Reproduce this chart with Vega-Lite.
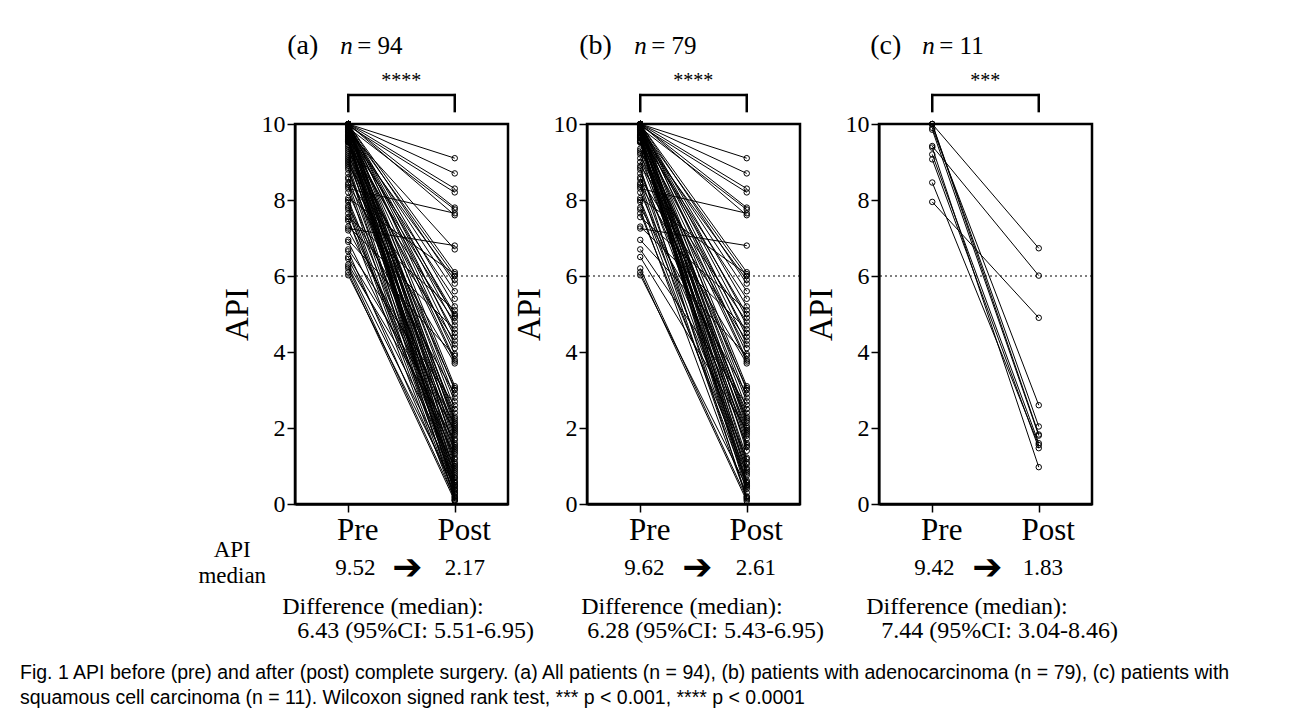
{
"$schema": "https://vega.github.io/schema/vega-lite/v6.json",
"padding": {"left": 20, "top": 30, "right": 5, "bottom": 5},
"background": "white",
"datasets": {
"a": [
{"id":1,"Pre":10,"Post":9.1},{"id":2,"Pre":10,"Post":8.7},{"id":3,"Pre":10,"Post":8.3},{"id":4,"Pre":9.95,"Post":8.2},{"id":5,"Pre":10,"Post":7.8},{"id":6,"Pre":9.9,"Post":7.75},{"id":7,"Pre":8.3,"Post":7.65},{"id":8,"Pre":10,"Post":7.6},{"id":9,"Pre":7.25,"Post":6.8},{"id":10,"Pre":9.8,"Post":6.7},
{"id":11,"Pre":10,"Post":6.1},{"id":12,"Pre":8.05,"Post":6.05},{"id":13,"Pre":9.9,"Post":6.0},{"id":14,"Pre":9.7,"Post":5.9},{"id":15,"Pre":10,"Post":5.8},{"id":16,"Pre":9.85,"Post":5.6},{"id":17,"Pre":9.6,"Post":5.4},{"id":18,"Pre":10,"Post":5.2},{"id":19,"Pre":7.55,"Post":5.1},{"id":20,"Pre":9.75,"Post":5.0},
{"id":21,"Pre":9.45,"Post":4.95},{"id":22,"Pre":10,"Post":4.9},{"id":23,"Pre":8.9,"Post":4.8},{"id":24,"Pre":9.98,"Post":4.7},{"id":25,"Pre":7.3,"Post":4.6},{"id":26,"Pre":9.65,"Post":4.5},{"id":27,"Pre":10,"Post":4.4},{"id":28,"Pre":8.55,"Post":4.3},{"id":29,"Pre":9.92,"Post":4.2},{"id":30,"Pre":9.3,"Post":4.1},
{"id":31,"Pre":10,"Post":3.95},{"id":32,"Pre":6.95,"Post":3.9},{"id":33,"Pre":9.83,"Post":3.8},{"id":34,"Pre":9.55,"Post":3.75},{"id":35,"Pre":8.4,"Post":3.7},{"id":36,"Pre":10,"Post":3.1},{"id":37,"Pre":9.2,"Post":3.05},{"id":38,"Pre":9.78,"Post":3.0},{"id":39,"Pre":7.8,"Post":2.9},{"id":40,"Pre":9.99,"Post":2.8},
{"id":41,"Pre":9.6,"Post":2.7},{"id":42,"Pre":6.7,"Post":2.6},{"id":43,"Pre":9.88,"Post":2.5},{"id":44,"Pre":9.1,"Post":2.4},{"id":45,"Pre":9.72,"Post":2.3},{"id":46,"Pre":8.7,"Post":2.25},{"id":47,"Pre":10,"Post":2.2},{"id":48,"Pre":9.53,"Post":2.14},{"id":49,"Pre":7.2,"Post":2.1},{"id":50,"Pre":9.97,"Post":2.05},
{"id":51,"Pre":9.0,"Post":2.0},{"id":52,"Pre":6.5,"Post":1.95},{"id":53,"Pre":9.7,"Post":1.9},{"id":54,"Pre":8.2,"Post":1.85},{"id":55,"Pre":9.95,"Post":1.8},{"id":56,"Pre":9.35,"Post":1.72},{"id":57,"Pre":6.3,"Post":1.68},{"id":58,"Pre":9.86,"Post":1.6},{"id":59,"Pre":8.8,"Post":1.55},{"id":60,"Pre":9.57,"Post":1.5},
{"id":61,"Pre":7.45,"Post":1.45},{"id":62,"Pre":10,"Post":1.4},{"id":63,"Pre":9.05,"Post":1.35},{"id":64,"Pre":6.9,"Post":1.3},{"id":65,"Pre":9.63,"Post":1.22},{"id":66,"Pre":8.0,"Post":1.18},{"id":67,"Pre":9.93,"Post":1.1},{"id":68,"Pre":9.25,"Post":1.05},{"id":69,"Pre":6.45,"Post":1.0},{"id":70,"Pre":9.8,"Post":0.95},
{"id":71,"Pre":8.6,"Post":0.9},{"id":72,"Pre":9.54,"Post":0.85},{"id":73,"Pre":7.65,"Post":0.8},{"id":74,"Pre":9.68,"Post":0.75},{"id":75,"Pre":9.15,"Post":0.7},{"id":76,"Pre":6.25,"Post":0.68},{"id":77,"Pre":9.62,"Post":0.62},{"id":78,"Pre":8.45,"Post":0.58},{"id":79,"Pre":9.58,"Post":0.55},{"id":80,"Pre":7.95,"Post":0.5},
{"id":81,"Pre":9.55,"Post":0.48},{"id":82,"Pre":6.02,"Post":0.45},{"id":83,"Pre":9.53,"Post":0.4},{"id":84,"Pre":8.95,"Post":0.38},{"id":85,"Pre":7.85,"Post":0.35},{"id":86,"Pre":9.51,"Post":0.3},{"id":87,"Pre":6.65,"Post":0.28},{"id":88,"Pre":9.4,"Post":0.25},{"id":89,"Pre":8.35,"Post":0.2},{"id":90,"Pre":7.75,"Post":0.18},
{"id":91,"Pre":6.2,"Post":0.15},{"id":92,"Pre":8.85,"Post":0.12},{"id":93,"Pre":7.5,"Post":0.1},{"id":94,"Pre":6.1,"Post":0.08}
],
"b": [
{"id":1,"Pre":10,"Post":9.1},{"id":2,"Pre":10,"Post":8.7},{"id":3,"Pre":10,"Post":8.3},{"id":4,"Pre":9.95,"Post":8.2},{"id":5,"Pre":10,"Post":7.8},{"id":6,"Pre":9.9,"Post":7.75},{"id":7,"Pre":8.3,"Post":7.65},{"id":8,"Pre":10,"Post":7.6},{"id":9,"Pre":7.25,"Post":6.8},
{"id":11,"Pre":10,"Post":6.1},{"id":12,"Pre":8.05,"Post":6.05},{"id":13,"Pre":9.9,"Post":6.0},{"id":14,"Pre":9.7,"Post":5.9},{"id":15,"Pre":10,"Post":5.8},{"id":16,"Pre":9.85,"Post":5.6},{"id":17,"Pre":9.66,"Post":5.4},{"id":18,"Pre":10,"Post":5.2},{"id":19,"Pre":7.55,"Post":5.1},{"id":20,"Pre":9.75,"Post":5.0},
{"id":22,"Pre":10,"Post":4.9},{"id":23,"Pre":8.9,"Post":4.8},{"id":24,"Pre":9.98,"Post":4.7},{"id":25,"Pre":7.3,"Post":4.6},{"id":26,"Pre":9.65,"Post":4.5},{"id":27,"Pre":10,"Post":4.4},{"id":28,"Pre":8.55,"Post":4.3},{"id":29,"Pre":9.92,"Post":4.2},{"id":30,"Pre":9.3,"Post":4.1},
{"id":31,"Pre":10,"Post":3.95},{"id":32,"Pre":6.95,"Post":3.9},{"id":33,"Pre":9.83,"Post":3.8},{"id":34,"Pre":9.55,"Post":3.75},{"id":35,"Pre":8.4,"Post":3.7},{"id":36,"Pre":10,"Post":3.1},{"id":37,"Pre":9.2,"Post":3.05},{"id":38,"Pre":9.78,"Post":3.0},{"id":39,"Pre":7.8,"Post":2.9},{"id":40,"Pre":9.99,"Post":2.8},
{"id":41,"Pre":9.64,"Post":2.7},{"id":42,"Pre":6.7,"Post":2.61},{"id":43,"Pre":9.88,"Post":2.5},{"id":44,"Pre":9.1,"Post":2.4},{"id":45,"Pre":9.72,"Post":2.3},{"id":46,"Pre":8.7,"Post":2.25},{"id":47,"Pre":10,"Post":2.2},{"id":48,"Pre":9.53,"Post":2.14},{"id":50,"Pre":9.97,"Post":2.05},
{"id":51,"Pre":9.0,"Post":2.0},{"id":52,"Pre":6.5,"Post":1.95},{"id":53,"Pre":9.7,"Post":1.9},{"id":54,"Pre":8.2,"Post":1.85},{"id":55,"Pre":9.95,"Post":1.8},{"id":56,"Pre":9.35,"Post":1.72},{"id":58,"Pre":9.86,"Post":1.6},{"id":59,"Pre":8.8,"Post":1.55},{"id":60,"Pre":9.57,"Post":1.5},
{"id":62,"Pre":10,"Post":1.4},{"id":65,"Pre":9.63,"Post":1.22},{"id":66,"Pre":8.0,"Post":1.18},{"id":67,"Pre":9.93,"Post":1.1},{"id":68,"Pre":9.25,"Post":1.05},{"id":70,"Pre":9.8,"Post":0.95},
{"id":71,"Pre":8.6,"Post":0.9},{"id":72,"Pre":9.54,"Post":0.85},{"id":73,"Pre":7.65,"Post":0.8},{"id":74,"Pre":9.68,"Post":0.75},{"id":77,"Pre":9.62,"Post":0.62},{"id":78,"Pre":8.45,"Post":0.58},{"id":79,"Pre":9.67,"Post":0.55},{"id":80,"Pre":7.95,"Post":0.5},
{"id":81,"Pre":9.55,"Post":0.48},{"id":82,"Pre":6.02,"Post":0.45},{"id":83,"Pre":9.53,"Post":0.4},{"id":86,"Pre":9.51,"Post":0.3},{"id":89,"Pre":8.35,"Post":0.2},{"id":90,"Pre":7.75,"Post":0.18},
{"id":91,"Pre":6.2,"Post":0.15},{"id":92,"Pre":8.85,"Post":0.12},{"id":94,"Pre":6.1,"Post":0.08}
],
"c": [
{"id":1,"Pre":10,"Post":6.73},{"id":2,"Pre":9.42,"Post":6.01},{"id":3,"Pre":7.95,"Post":4.9},{"id":4,"Pre":9.9,"Post":2.6},{"id":5,"Pre":10,"Post":2.04},{"id":6,"Pre":9.85,"Post":1.8},{"id":7,"Pre":9.2,"Post":1.6},{"id":8,"Pre":8.46,"Post":1.55},{"id":9,"Pre":9.07,"Post":1.47},{"id":10,"Pre":10,"Post":1.83},{"id":11,"Pre":9.38,"Post":0.97}
]
},
"hconcat": [
{
"width": 213, "height": 380,
"data": {"values": [{}]},
"layer": [
{"mark": {"type": "rule", "strokeDash": [2, 3], "color": "black", "strokeWidth": 1}, "encoding": {"y": {"datum": 6, "type": "quantitative", "scale": {"domain": [0, 10]}}}},
{"mark": {"type": "rule", "color": "black", "strokeWidth": 2.5, "strokeCap": "square"}, "encoding": {"x": {"datum": "Pre", "type": "nominal", "scale": {"type": "point", "domain": ["Pre", "Post"], "padding": 0.5}}, "x2": {"datum": "Post"}, "y": {"datum": 10.76, "type": "quantitative", "scale": {"domain": [0, 10]}}}},
{"mark": {"type": "rule", "color": "black", "strokeWidth": 2.5, "strokeCap": "square"}, "encoding": {"x": {"datum": "Pre", "type": "nominal", "scale": {"type": "point", "domain": ["Pre", "Post"], "padding": 0.5}}, "y": {"datum": 10.34, "type": "quantitative", "scale": {"domain": [0, 10]}}, "y2": {"datum": 10.76}}},
{"mark": {"type": "rule", "color": "black", "strokeWidth": 2.5, "strokeCap": "square"}, "encoding": {"x": {"datum": "Post", "type": "nominal", "scale": {"type": "point", "domain": ["Pre", "Post"], "padding": 0.5}}, "y": {"datum": 10.34, "type": "quantitative", "scale": {"domain": [0, 10]}}, "y2": {"datum": 10.76}}},
{"mark": {"type": "text", "text": "****", "font": "Liberation Serif", "fontSize": 20, "dx": 53, "dy": -37, "baseline": "alphabetic", "align": "center", "color": "black"}, "encoding": {"x": {"datum": "Pre", "type": "nominal", "scale": {"type": "point", "domain": ["Pre", "Post"], "padding": 0.5}}, "y": {"datum": 10, "type": "quantitative", "scale": {"domain": [0, 10]}}}},
{"mark": {"type": "text", "text": "(a)", "font": "Liberation Serif", "fontSize": 28, "dx": -61, "dy": -70, "baseline": "alphabetic", "align": "left", "color": "black"}, "encoding": {"x": {"datum": "Pre", "type": "nominal", "scale": {"type": "point", "domain": ["Pre", "Post"], "padding": 0.5}}, "y": {"datum": 10, "type": "quantitative", "scale": {"domain": [0, 10]}}}},
{"mark": {"type": "text", "text": "n", "font": "Liberation Serif", "fontStyle": "italic", "fontSize": 25, "dx": -8, "dy": -70, "baseline": "alphabetic", "align": "left", "color": "black"}, "encoding": {"x": {"datum": "Pre", "type": "nominal", "scale": {"type": "point", "domain": ["Pre", "Post"], "padding": 0.5}}, "y": {"datum": 10, "type": "quantitative", "scale": {"domain": [0, 10]}}}},
{"mark": {"type": "text", "text": "= 94", "font": "Liberation Serif", "fontSize": 25, "dx": 9, "dy": -70, "baseline": "alphabetic", "align": "left", "color": "black"}, "encoding": {"x": {"datum": "Pre", "type": "nominal", "scale": {"type": "point", "domain": ["Pre", "Post"], "padding": 0.5}}, "y": {"datum": 10, "type": "quantitative", "scale": {"domain": [0, 10]}}}},
{"mark": {"type": "text", "text": "API", "font": "Liberation Serif", "fontSize": 23, "dx": -116, "dy": 53, "baseline": "alphabetic", "align": "center", "color": "black"}, "encoding": {"x": {"datum": "Pre", "type": "nominal", "scale": {"type": "point", "domain": ["Pre", "Post"], "padding": 0.5}}, "y": {"datum": 0, "type": "quantitative", "scale": {"domain": [0, 10]}}}},
{"mark": {"type": "text", "text": "median", "font": "Liberation Serif", "fontSize": 23, "dx": -116, "dy": 79, "baseline": "alphabetic", "align": "center", "color": "black"}, "encoding": {"x": {"datum": "Pre", "type": "nominal", "scale": {"type": "point", "domain": ["Pre", "Post"], "padding": 0.5}}, "y": {"datum": 0, "type": "quantitative", "scale": {"domain": [0, 10]}}}},
{"mark": {"type": "text", "text": "9.52", "font": "Liberation Serif", "fontSize": 23, "dx": 7, "dy": 71, "baseline": "alphabetic", "align": "center", "color": "black"}, "encoding": {"x": {"datum": "Pre", "type": "nominal", "scale": {"type": "point", "domain": ["Pre", "Post"], "padding": 0.5}}, "y": {"datum": 0, "type": "quantitative", "scale": {"domain": [0, 10]}}}},
{"mark": {"type": "text", "text": "➔", "font": "DejaVu Sans", "fontWeight": "bold", "fontSize": 36, "dx": 59, "dy": 64, "baseline": "middle", "align": "center", "color": "black"}, "encoding": {"x": {"datum": "Pre", "type": "nominal", "scale": {"type": "point", "domain": ["Pre", "Post"], "padding": 0.5}}, "y": {"datum": 0, "type": "quantitative", "scale": {"domain": [0, 10]}}}},
{"mark": {"type": "text", "text": "2.17", "font": "Liberation Serif", "fontSize": 23, "dx": 10, "dy": 71, "baseline": "alphabetic", "align": "center", "color": "black"}, "encoding": {"x": {"datum": "Post", "type": "nominal", "scale": {"type": "point", "domain": ["Pre", "Post"], "padding": 0.5}}, "y": {"datum": 0, "type": "quantitative", "scale": {"domain": [0, 10]}}}},
{"mark": {"type": "text", "text": "Difference (median):", "font": "Liberation Serif", "fontSize": 24, "dx": -66, "dy": 110, "baseline": "alphabetic", "align": "left", "color": "black"}, "encoding": {"x": {"datum": "Pre", "type": "nominal", "scale": {"type": "point", "domain": ["Pre", "Post"], "padding": 0.5}}, "y": {"datum": 0, "type": "quantitative", "scale": {"domain": [0, 10]}}}},
{"mark": {"type": "text", "text": "6.43 (95%CI: 5.51-6.95)", "font": "Liberation Serif", "fontSize": 24, "dx": -51, "dy": 134, "baseline": "alphabetic", "align": "left", "color": "black"}, "encoding": {"x": {"datum": "Pre", "type": "nominal", "scale": {"type": "point", "domain": ["Pre", "Post"], "padding": 0.5}}, "y": {"datum": 0, "type": "quantitative", "scale": {"domain": [0, 10]}}}},
{"data": {"name": "a"}, "transform": [{"fold": ["Pre", "Post"], "as": ["time", "api"]}],
 "mark": {"type": "line", "color": "black", "strokeWidth": 1},
 "encoding": {"x": {"field": "time", "type": "nominal", "sort": ["Pre", "Post"], "scale": {"type": "point", "domain": ["Pre", "Post"], "padding": 0.5}, "axis": {"title": null, "labelOffset": 9}}, "y": {"field": "api", "type": "quantitative", "scale": {"domain": [0, 10]}, "axis": {"title": "API", "values": [0, 2, 4, 6, 8, 10]}}, "detail": {"field": "id", "type": "nominal"}}},
{"data": {"name": "a"}, "transform": [{"fold": ["Pre", "Post"], "as": ["time", "api"]}],
 "mark": {"type": "point", "shape": "circle", "filled": false, "color": "black", "size": 30, "strokeWidth": 1, "opacity": 1},
 "encoding": {"x": {"field": "time", "type": "nominal", "sort": ["Pre", "Post"], "scale": {"type": "point", "domain": ["Pre", "Post"], "padding": 0.5}, "axis": {"title": null, "labelOffset": 9}}, "y": {"field": "api", "type": "quantitative", "scale": {"domain": [0, 10]}, "axis": {"title": "API", "values": [0, 2, 4, 6, 8, 10]}}}}
]
},
{
"width": 213, "height": 380,
"data": {"values": [{}]},
"layer": [
{"mark": {"type": "rule", "strokeDash": [2, 3], "color": "black", "strokeWidth": 1}, "encoding": {"y": {"datum": 6, "type": "quantitative", "scale": {"domain": [0, 10]}}}},
{"mark": {"type": "rule", "color": "black", "strokeWidth": 2.5, "strokeCap": "square"}, "encoding": {"x": {"datum": "Pre", "type": "nominal", "scale": {"type": "point", "domain": ["Pre", "Post"], "padding": 0.5}}, "x2": {"datum": "Post"}, "y": {"datum": 10.76, "type": "quantitative", "scale": {"domain": [0, 10]}}}},
{"mark": {"type": "rule", "color": "black", "strokeWidth": 2.5, "strokeCap": "square"}, "encoding": {"x": {"datum": "Pre", "type": "nominal", "scale": {"type": "point", "domain": ["Pre", "Post"], "padding": 0.5}}, "y": {"datum": 10.34, "type": "quantitative", "scale": {"domain": [0, 10]}}, "y2": {"datum": 10.76}}},
{"mark": {"type": "rule", "color": "black", "strokeWidth": 2.5, "strokeCap": "square"}, "encoding": {"x": {"datum": "Post", "type": "nominal", "scale": {"type": "point", "domain": ["Pre", "Post"], "padding": 0.5}}, "y": {"datum": 10.34, "type": "quantitative", "scale": {"domain": [0, 10]}}, "y2": {"datum": 10.76}}},
{"mark": {"type": "text", "text": "****", "font": "Liberation Serif", "fontSize": 20, "dx": 53, "dy": -37, "baseline": "alphabetic", "align": "center", "color": "black"}, "encoding": {"x": {"datum": "Pre", "type": "nominal", "scale": {"type": "point", "domain": ["Pre", "Post"], "padding": 0.5}}, "y": {"datum": 10, "type": "quantitative", "scale": {"domain": [0, 10]}}}},
{"mark": {"type": "text", "text": "(b)", "font": "Liberation Serif", "fontSize": 28, "dx": -61, "dy": -70, "baseline": "alphabetic", "align": "left", "color": "black"}, "encoding": {"x": {"datum": "Pre", "type": "nominal", "scale": {"type": "point", "domain": ["Pre", "Post"], "padding": 0.5}}, "y": {"datum": 10, "type": "quantitative", "scale": {"domain": [0, 10]}}}},
{"mark": {"type": "text", "text": "n", "font": "Liberation Serif", "fontStyle": "italic", "fontSize": 25, "dx": -6, "dy": -70, "baseline": "alphabetic", "align": "left", "color": "black"}, "encoding": {"x": {"datum": "Pre", "type": "nominal", "scale": {"type": "point", "domain": ["Pre", "Post"], "padding": 0.5}}, "y": {"datum": 10, "type": "quantitative", "scale": {"domain": [0, 10]}}}},
{"mark": {"type": "text", "text": "= 79", "font": "Liberation Serif", "fontSize": 25, "dx": 11, "dy": -70, "baseline": "alphabetic", "align": "left", "color": "black"}, "encoding": {"x": {"datum": "Pre", "type": "nominal", "scale": {"type": "point", "domain": ["Pre", "Post"], "padding": 0.5}}, "y": {"datum": 10, "type": "quantitative", "scale": {"domain": [0, 10]}}}},
{"mark": {"type": "text", "text": "9.62", "font": "Liberation Serif", "fontSize": 23, "dx": 4, "dy": 71, "baseline": "alphabetic", "align": "center", "color": "black"}, "encoding": {"x": {"datum": "Pre", "type": "nominal", "scale": {"type": "point", "domain": ["Pre", "Post"], "padding": 0.5}}, "y": {"datum": 0, "type": "quantitative", "scale": {"domain": [0, 10]}}}},
{"mark": {"type": "text", "text": "➔", "font": "DejaVu Sans", "fontWeight": "bold", "fontSize": 36, "dx": 57, "dy": 64, "baseline": "middle", "align": "center", "color": "black"}, "encoding": {"x": {"datum": "Pre", "type": "nominal", "scale": {"type": "point", "domain": ["Pre", "Post"], "padding": 0.5}}, "y": {"datum": 0, "type": "quantitative", "scale": {"domain": [0, 10]}}}},
{"mark": {"type": "text", "text": "2.61", "font": "Liberation Serif", "fontSize": 23, "dx": 9, "dy": 71, "baseline": "alphabetic", "align": "center", "color": "black"}, "encoding": {"x": {"datum": "Post", "type": "nominal", "scale": {"type": "point", "domain": ["Pre", "Post"], "padding": 0.5}}, "y": {"datum": 0, "type": "quantitative", "scale": {"domain": [0, 10]}}}},
{"mark": {"type": "text", "text": "Difference (median):", "font": "Liberation Serif", "fontSize": 24, "dx": -59, "dy": 110, "baseline": "alphabetic", "align": "left", "color": "black"}, "encoding": {"x": {"datum": "Pre", "type": "nominal", "scale": {"type": "point", "domain": ["Pre", "Post"], "padding": 0.5}}, "y": {"datum": 0, "type": "quantitative", "scale": {"domain": [0, 10]}}}},
{"mark": {"type": "text", "text": "6.28 (95%CI: 5.43-6.95)", "font": "Liberation Serif", "fontSize": 24, "dx": -53, "dy": 134, "baseline": "alphabetic", "align": "left", "color": "black"}, "encoding": {"x": {"datum": "Pre", "type": "nominal", "scale": {"type": "point", "domain": ["Pre", "Post"], "padding": 0.5}}, "y": {"datum": 0, "type": "quantitative", "scale": {"domain": [0, 10]}}}},
{"data": {"name": "b"}, "transform": [{"fold": ["Pre", "Post"], "as": ["time", "api"]}],
 "mark": {"type": "line", "color": "black", "strokeWidth": 1},
 "encoding": {"x": {"field": "time", "type": "nominal", "sort": ["Pre", "Post"], "scale": {"type": "point", "domain": ["Pre", "Post"], "padding": 0.5}, "axis": {"title": null, "labelOffset": 9}}, "y": {"field": "api", "type": "quantitative", "scale": {"domain": [0, 10]}, "axis": {"title": "API", "values": [0, 2, 4, 6, 8, 10]}}, "detail": {"field": "id", "type": "nominal"}}},
{"data": {"name": "b"}, "transform": [{"fold": ["Pre", "Post"], "as": ["time", "api"]}],
 "mark": {"type": "point", "shape": "circle", "filled": false, "color": "black", "size": 30, "strokeWidth": 1, "opacity": 1},
 "encoding": {"x": {"field": "time", "type": "nominal", "sort": ["Pre", "Post"], "scale": {"type": "point", "domain": ["Pre", "Post"], "padding": 0.5}, "axis": {"title": null, "labelOffset": 9}}, "y": {"field": "api", "type": "quantitative", "scale": {"domain": [0, 10]}, "axis": {"title": "API", "values": [0, 2, 4, 6, 8, 10]}}}}
]
},
{
"width": 213, "height": 380,
"data": {"values": [{}]},
"layer": [
{"mark": {"type": "rule", "strokeDash": [2, 3], "color": "black", "strokeWidth": 1}, "encoding": {"y": {"datum": 6, "type": "quantitative", "scale": {"domain": [0, 10]}}}},
{"mark": {"type": "rule", "color": "black", "strokeWidth": 2.5, "strokeCap": "square"}, "encoding": {"x": {"datum": "Pre", "type": "nominal", "scale": {"type": "point", "domain": ["Pre", "Post"], "padding": 0.5}}, "x2": {"datum": "Post"}, "y": {"datum": 10.76, "type": "quantitative", "scale": {"domain": [0, 10]}}}},
{"mark": {"type": "rule", "color": "black", "strokeWidth": 2.5, "strokeCap": "square"}, "encoding": {"x": {"datum": "Pre", "type": "nominal", "scale": {"type": "point", "domain": ["Pre", "Post"], "padding": 0.5}}, "y": {"datum": 10.34, "type": "quantitative", "scale": {"domain": [0, 10]}}, "y2": {"datum": 10.76}}},
{"mark": {"type": "rule", "color": "black", "strokeWidth": 2.5, "strokeCap": "square"}, "encoding": {"x": {"datum": "Post", "type": "nominal", "scale": {"type": "point", "domain": ["Pre", "Post"], "padding": 0.5}}, "y": {"datum": 10.34, "type": "quantitative", "scale": {"domain": [0, 10]}}, "y2": {"datum": 10.76}}},
{"mark": {"type": "text", "text": "***", "font": "Liberation Serif", "fontSize": 20, "dx": 53, "dy": -37, "baseline": "alphabetic", "align": "center", "color": "black"}, "encoding": {"x": {"datum": "Pre", "type": "nominal", "scale": {"type": "point", "domain": ["Pre", "Post"], "padding": 0.5}}, "y": {"datum": 10, "type": "quantitative", "scale": {"domain": [0, 10]}}}},
{"mark": {"type": "text", "text": "(c)", "font": "Liberation Serif", "fontSize": 28, "dx": -62, "dy": -70, "baseline": "alphabetic", "align": "left", "color": "black"}, "encoding": {"x": {"datum": "Pre", "type": "nominal", "scale": {"type": "point", "domain": ["Pre", "Post"], "padding": 0.5}}, "y": {"datum": 10, "type": "quantitative", "scale": {"domain": [0, 10]}}}},
{"mark": {"type": "text", "text": "n", "font": "Liberation Serif", "fontStyle": "italic", "fontSize": 25, "dx": -10, "dy": -70, "baseline": "alphabetic", "align": "left", "color": "black"}, "encoding": {"x": {"datum": "Pre", "type": "nominal", "scale": {"type": "point", "domain": ["Pre", "Post"], "padding": 0.5}}, "y": {"datum": 10, "type": "quantitative", "scale": {"domain": [0, 10]}}}},
{"mark": {"type": "text", "text": "= 11", "font": "Liberation Serif", "fontSize": 25, "dx": 7, "dy": -70, "baseline": "alphabetic", "align": "left", "color": "black"}, "encoding": {"x": {"datum": "Pre", "type": "nominal", "scale": {"type": "point", "domain": ["Pre", "Post"], "padding": 0.5}}, "y": {"datum": 10, "type": "quantitative", "scale": {"domain": [0, 10]}}}},
{"mark": {"type": "text", "text": "9.42", "font": "Liberation Serif", "fontSize": 23, "dx": 2, "dy": 71, "baseline": "alphabetic", "align": "center", "color": "black"}, "encoding": {"x": {"datum": "Pre", "type": "nominal", "scale": {"type": "point", "domain": ["Pre", "Post"], "padding": 0.5}}, "y": {"datum": 0, "type": "quantitative", "scale": {"domain": [0, 10]}}}},
{"mark": {"type": "text", "text": "➔", "font": "DejaVu Sans", "fontWeight": "bold", "fontSize": 36, "dx": 55, "dy": 64, "baseline": "middle", "align": "center", "color": "black"}, "encoding": {"x": {"datum": "Pre", "type": "nominal", "scale": {"type": "point", "domain": ["Pre", "Post"], "padding": 0.5}}, "y": {"datum": 0, "type": "quantitative", "scale": {"domain": [0, 10]}}}},
{"mark": {"type": "text", "text": "1.83", "font": "Liberation Serif", "fontSize": 23, "dx": 4, "dy": 71, "baseline": "alphabetic", "align": "center", "color": "black"}, "encoding": {"x": {"datum": "Post", "type": "nominal", "scale": {"type": "point", "domain": ["Pre", "Post"], "padding": 0.5}}, "y": {"datum": 0, "type": "quantitative", "scale": {"domain": [0, 10]}}}},
{"mark": {"type": "text", "text": "Difference (median):", "font": "Liberation Serif", "fontSize": 24, "dx": -66, "dy": 110, "baseline": "alphabetic", "align": "left", "color": "black"}, "encoding": {"x": {"datum": "Pre", "type": "nominal", "scale": {"type": "point", "domain": ["Pre", "Post"], "padding": 0.5}}, "y": {"datum": 0, "type": "quantitative", "scale": {"domain": [0, 10]}}}},
{"mark": {"type": "text", "text": "7.44 (95%CI: 3.04-8.46)", "font": "Liberation Serif", "fontSize": 24, "dx": -51, "dy": 134, "baseline": "alphabetic", "align": "left", "color": "black"}, "encoding": {"x": {"datum": "Pre", "type": "nominal", "scale": {"type": "point", "domain": ["Pre", "Post"], "padding": 0.5}}, "y": {"datum": 0, "type": "quantitative", "scale": {"domain": [0, 10]}}}},
{"data": {"name": "c"}, "transform": [{"fold": ["Pre", "Post"], "as": ["time", "api"]}],
 "mark": {"type": "line", "color": "black", "strokeWidth": 1},
 "encoding": {"x": {"field": "time", "type": "nominal", "sort": ["Pre", "Post"], "scale": {"type": "point", "domain": ["Pre", "Post"], "padding": 0.5}, "axis": {"title": null, "labelOffset": 9}}, "y": {"field": "api", "type": "quantitative", "scale": {"domain": [0, 10]}, "axis": {"title": "API", "values": [0, 2, 4, 6, 8, 10]}}, "detail": {"field": "id", "type": "nominal"}}},
{"data": {"name": "c"}, "transform": [{"fold": ["Pre", "Post"], "as": ["time", "api"]}],
 "mark": {"type": "point", "shape": "circle", "filled": false, "color": "black", "size": 30, "strokeWidth": 1, "opacity": 1},
 "encoding": {"x": {"field": "time", "type": "nominal", "sort": ["Pre", "Post"], "scale": {"type": "point", "domain": ["Pre", "Post"], "padding": 0.5}, "axis": {"title": null, "labelOffset": 9}}, "y": {"field": "api", "type": "quantitative", "scale": {"domain": [0, 10]}, "axis": {"title": "API", "values": [0, 2, 4, 6, 8, 10]}}}}
]
}
],
"spacing": 79,
"bounds": "flush",
"title": {
"text": ["Fig. 1 API before (pre) and after (post) complete surgery. (a) All patients (n = 94), (b) patients with adenocarcinoma (n = 79), (c) patients with", "squamous cell carcinoma (n = 11). Wilcoxon signed rank test, *** p < 0.001, **** p < 0.0001"],
"orient": "bottom", "anchor": "start", "frame": "group", "dx": -275, "offset": 20,
"font": "Liberation Sans", "fontSize": 19.5, "fontWeight": "normal", "color": "black", "lineHeight": 25
},
"config": {
"view": {"stroke": "black", "strokeWidth": 2.5},
"axis": {"labelFont": "Liberation Serif", "titleFont": "Liberation Serif", "labelColor": "black", "titleColor": "black", "domainColor": "black", "tickColor": "black", "grid": false, "titleFontWeight": "normal"},
"axisX": {"labelFontSize": 31, "labelAngle": 0, "tickSize": 8, "tickWidth": 1.5, "domainWidth": 2.5, "labelPadding": 3},
"axisY": {"labelFontSize": 24, "tickSize": 8, "tickWidth": 1.5, "domainWidth": 2, "labelPadding": 2, "titleFontSize": 33, "titlePadding": 7}
}
}
